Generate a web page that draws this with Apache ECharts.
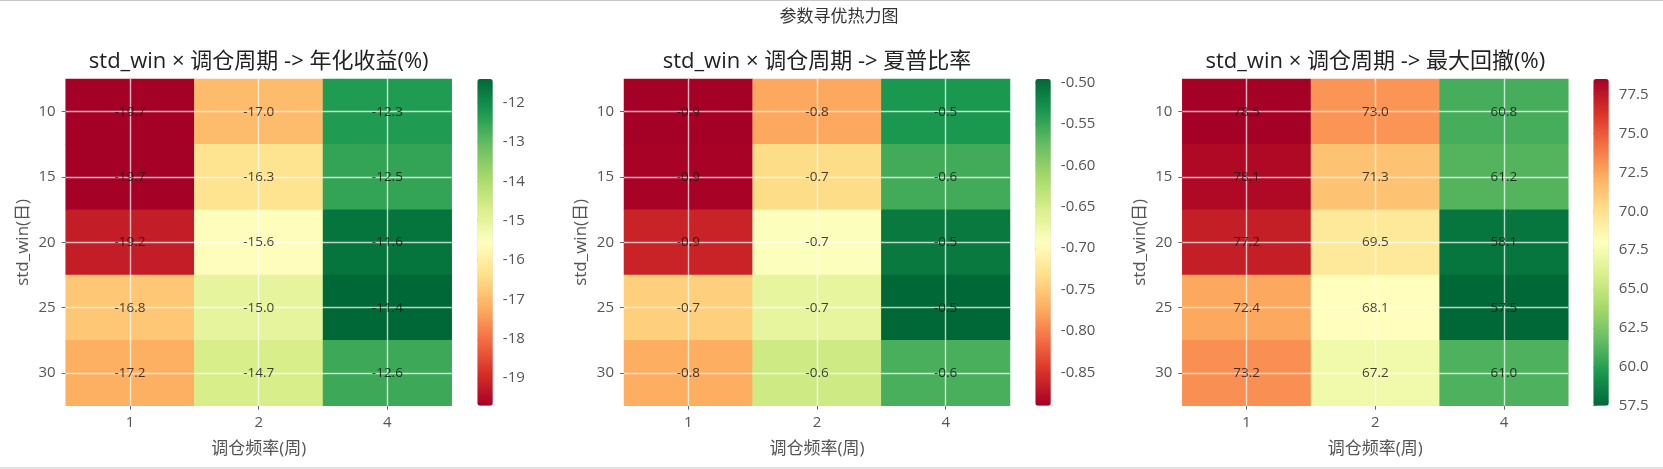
<!DOCTYPE html>
<html><head><meta charset="utf-8">
<script src="https://cdn.jsdelivr.net/npm/echarts@6/dist/echarts.min.js"></script>
<style>
html,body{margin:0;padding:0;background:#fff;}
#c{position:absolute;left:0;top:0;width:1663px;height:469px;}
.lt{position:absolute;left:0;top:0;width:1663px;height:1px;background:#c8c8c8;}
.lb{position:absolute;left:0;top:467px;width:1663px;height:2px;background:#e2e2e2;}
</style></head><body>
<div id="c"></div><div class="lt"></div><div class="lb"></div>
<script>
// ---- data ----
const xCats = ['1', '2', '4'];
const yCats = ['10', '15', '20', '25', '30'];
const retVals = [
  [-19.7, -17.0, -12.3],
  [-19.7, -16.3, -12.5],
  [-19.2, -15.6, -11.6],
  [-16.8, -15.0, -11.4],
  [-17.2, -14.7, -12.6]
];
const sharpeVals = [
  [-0.890, -0.775, -0.535],
  [-0.888, -0.735, -0.556],
  [-0.862, -0.690, -0.510],
  [-0.745, -0.668, -0.496],
  [-0.772, -0.645, -0.560]
];
const ddVals = [
  [78.5, 73.0, 60.8],
  [78.1, 71.3, 61.2],
  [77.2, 69.5, 58.1],
  [72.4, 68.1, 57.5],
  [73.2, 67.2, 61.0]
];
const retTicks = [-19, -18, -17, -16, -15, -14, -13, -12];
const sharpeTicks = [-0.85, -0.80, -0.75, -0.70, -0.65, -0.60, -0.55, -0.50];
const ddTicks = [57.5, 60.0, 62.5, 65.0, 67.5, 70.0, 72.5, 75.0, 77.5];
const mainTitle = '参数寻优热力图';
const subTitles = ['std_win × 调仓周期 -> 年化收益(%)', 'std_win × 调仓周期 -> 夏普比率', 'std_win × 调仓周期 -> 最大回撤(%)'];
const xName = '调仓频率(周)';
const yName = 'std_win(日)';

// ---- styling / layout ----
const RdYlGn = ['#a50026','#d73027','#f46d43','#fdae61','#fee08b','#ffffbf','#d9ef8b','#a6d96a','#66bd63','#1a9850','#006837'];
const FONT = '"Open Sans", "Noto Sans CJK SC", sans-serif';
const panels = [
  {vals: retVals, ticks: retTicks, tickFmt: v => String(Math.round(v)), colors: RdYlGn, left: 65.7, cbLeft: 477.3},
  {vals: sharpeVals, ticks: sharpeTicks, tickFmt: v => v.toFixed(2), colors: RdYlGn, left: 624, cbLeft: 1035.3},
  {vals: ddVals, ticks: ddTicks, tickFmt: v => v.toFixed(1), colors: RdYlGn.slice().reverse(), left: 1182.3, cbLeft: 1593.3}
];
const TOP = 79, W = 386, H = 326.7, CBW = 15.5;

const grid = [], xAxis = [], yAxis = [], series = [], visualMap = [];
const title = [{
  text: mainTitle, left: 839, top: 9, padding: 0, textAlign: 'center',
  textStyle: {fontFamily: FONT, fontSize: 17, fontWeight: 'normal', color: '#333'}
}];

panels.forEach((p, i) => {
  const flat = p.vals.flat();
  const mn = Math.min(...flat), mx = Math.max(...flat);
  title.push({
    text: subTitles[i], left: p.left + W / 2, top: 51, padding: 0, textAlign: 'center',
    textStyle: {fontFamily: FONT, fontSize: 22, fontWeight: 'normal', color: '#222'}
  });
  grid.push({left: p.left, top: TOP, width: W, height: H, containLabel: false});
  xAxis.push({
    type: 'category', gridIndex: 2 * i, data: xCats,
    axisLine: {show: false},
    axisTick: {show: true, alignWithLabel: true, length: 4, lineStyle: {color: '#666'}},
    axisLabel: {color: '#555', fontSize: 15, margin: 10, fontFamily: FONT},
    splitLine: {show: false},
    name: xName, nameLocation: 'middle', nameGap: 35,
    nameTextStyle: {color: '#555', fontSize: 17, fontFamily: FONT}
  });
  yAxis.push({
    type: 'category', gridIndex: 2 * i, data: yCats, inverse: true,
    axisLine: {show: false},
    axisTick: {show: true, alignWithLabel: true, length: 4, lineStyle: {color: '#666'}},
    axisLabel: {color: '#555', fontSize: 15, margin: 10, fontFamily: FONT},
    splitLine: {show: false},
    name: yName, nameLocation: 'middle', nameGap: 34, nameRotate: 90,
    nameTextStyle: {color: '#555', fontSize: 17, fontFamily: FONT}
  });
  grid.push({left: p.cbLeft, top: TOP, width: CBW, height: H, containLabel: false});
  xAxis.push({type: 'value', gridIndex: 2 * i + 1, show: false, min: 0, max: 1});
  yAxis.push({
    type: 'value', gridIndex: 2 * i + 1, position: 'right', min: mn, max: mx,
    axisLine: {show: false},
    axisTick: {show: true, length: 4, lineStyle: {color: '#555'}, customValues: p.ticks},
    axisLabel: {show: true, color: '#555', fontSize: 15, margin: 10, fontFamily: FONT,
      customValues: p.ticks, formatter: v => p.tickFmt(v)},
    splitLine: {show: false}
  });
  const data = [];
  p.vals.forEach((row, r) => row.forEach((v, c) => data.push([c, r, v])));
  const hmIndex = series.length;
  series.push({
    type: 'heatmap', xAxisIndex: 2 * i, yAxisIndex: 2 * i, data: data, z: 2,
    label: {show: false},
    itemStyle: {borderWidth: 0},
    emphasis: {disabled: true},
    markLine: {
      silent: true, symbol: 'none', animation: false, z: 3,
      label: {show: false},
      lineStyle: {color: 'rgba(255,255,255,0.72)', width: 1.4, type: 'solid'},
      data: xCats.map(c => ({xAxis: c})).concat(yCats.map(c => ({yAxis: c})))
    }
  });
  series.push({
    type: 'scatter', xAxisIndex: 2 * i, yAxisIndex: 2 * i, data: data, z: 10,
    symbolSize: 0, silent: true,
    label: {show: true, position: 'inside', color: '#111', fontSize: 13.5, fontFamily: FONT,
      formatter: d => d.value[2].toFixed(1)},
    emphasis: {disabled: true}
  });
  visualMap.push({
    type: 'continuous', seriesIndex: hmIndex, min: mn, max: mx,
    inRange: {color: p.colors}, calculable: false, hoverLink: false,
    itemWidth: CBW, itemHeight: H, left: p.cbLeft, top: TOP, padding: 0,
    text: null, orient: 'vertical'
  });
});

const chart = echarts.init(document.getElementById('c'), null, {renderer: 'canvas'});
chart.setOption({
  animation: false,
  backgroundColor: 'transparent',
  textStyle: {fontFamily: FONT},
  title, grid, xAxis, yAxis, series, visualMap
});
</script>
</body></html>
